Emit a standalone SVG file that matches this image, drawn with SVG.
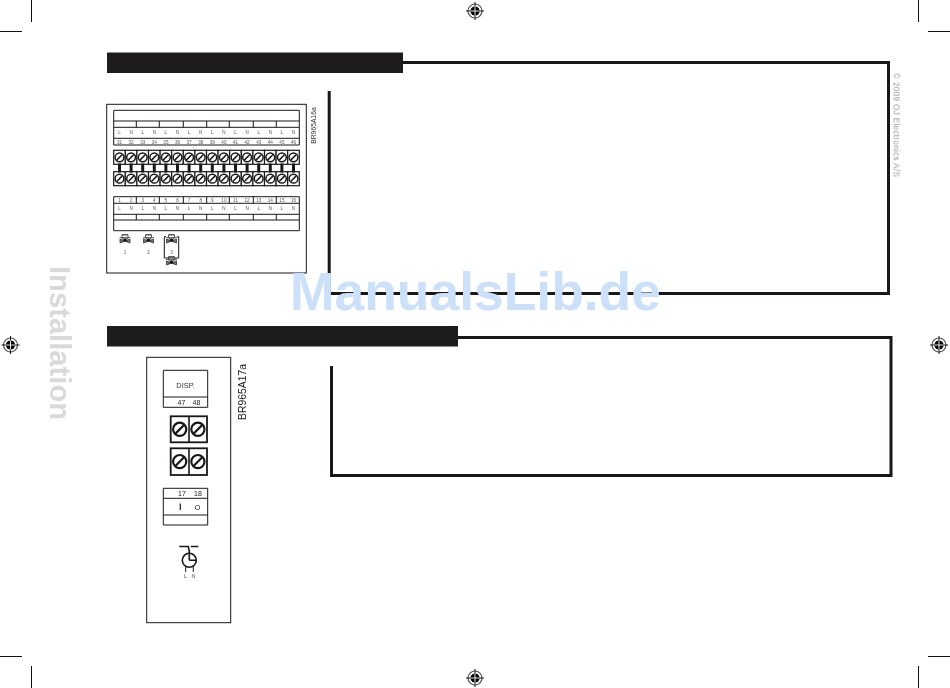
<svg xmlns="http://www.w3.org/2000/svg" width="950" height="688" viewBox="0 0 950 688">
<style>
.ln{fill:none;stroke:#1a1718;stroke-width:1}
.th{fill:none;stroke:#1a1718;stroke-width:3}
.bar{fill:#1f1c1d}
.t{font-family:"Liberation Sans",Arial,sans-serif;fill:#333;text-anchor:middle}
.s{font-size:4.6px;fill:#555}
.m{font-size:7px;fill:#1a1718}
.crop{stroke:#111;stroke-width:1;fill:none}
</style>
<defs>
<g id="reg">
<circle r="7" fill="#fff" stroke="#555" stroke-width="1.2"/>
<circle r="4.6" fill="#000"/>
<path d="M-9 0H9M0-9V9" stroke="#000" stroke-width="0.9" fill="none"/>
<path d="M-4.6 0H4.6M0-4.6V4.6" stroke="#fff" stroke-width="0.9" fill="none"/>
</g>
<g id="term">
<rect x="-5.8" y="-7" width="11.6" height="14" fill="#fff" stroke="#1a1718" stroke-width="1.2"/>
<circle r="4.4" fill="#fff" stroke="#1a1718" stroke-width="1.5"/>
<path d="M-2.8 2.8L2.8-2.8" stroke="#1a1718" stroke-width="1.5"/>
</g>
<g id="bigterm">
<circle r="6.6" fill="#fff" stroke="#1a1718" stroke-width="2.2"/>
<path d="M-4.6 4.6L4.6-4.6" stroke="#1a1718" stroke-width="2.2"/>
</g>
<g id="valve" fill="none" stroke="#333" stroke-width="0.8">
<path d="M-3-1V-4.2H3V-1M-5.5-1.4H5.5M-3-4.2H3"/>
<path d="M-5 0L-5 4L5 0L5 4Z" fill="#777"/>
<path d="M-3-1L3 3M3-1L-3 3" stroke-width="0.9"/>
<circle cx="0" cy="1" r="1.7" fill="#1a1718" stroke="none"/>
</g>
</defs>
<rect width="950" height="688" fill="#fff"/>

<g id="crop-marks">
<path class="crop" d="M31.5 0V22M0 31.5H22M918.5 0V22M928 31.5H950M0 656.5H22M31.5 666V688M928 656.5H950M918.5 666V688"/>
</g>
<g id="registration-marks">
<use href="#reg" x="475" y="11"/>
<use href="#reg" x="10.5" y="345"/>
<use href="#reg" x="939" y="345"/>
<use href="#reg" x="475" y="678"/>
</g>

<g opacity="0.99">
<text id="installation" transform="translate(50,266) rotate(90)" font-family="'Liberation Sans',Arial,sans-serif" font-weight="700" font-size="29.2" fill="#d9d9da">Installation</text>
<text id="copyright" transform="translate(893.5,73) rotate(90)" font-family="'Liberation Sans',Arial,sans-serif" font-size="8.3" fill="#9a9a9a" textLength="104">© 2009 OJ Electronics A/S</text>
</g>

<g id="section-1">
<rect class="bar" x="107" y="52.5" width="296" height="20.5"/>
<path class="th" d="M403 62.5H888.5V293.5H329.2V91"/>
</g>
<g id="section-2">
<rect class="bar" x="107" y="326" width="351" height="20.5"/>
<path class="th" d="M458 337.5H891V475.5H331.5V366"/>
</g>

<g id="panel-1">
<rect class="ln" x="106.7" y="104.3" width="199.6" height="168.7"/>
<path class="ln" d="M113.7 110.3H299.3V127.3H113.7ZM113.7 121H299.3M113.7 138.3H299.3V145H113.7V138.3M113.7 127.3V138.3M299.3 127.3V138.3M136.3 121V127.3M159.3 121V127.3M183.3 121V127.3M206.7 121V127.3M229.3 121V127.3M253.3 121V127.3M276.3 121V127.3"/>
<path class="ln" d="M113.7 196.7H299.3V230.7H113.7ZM113.7 203.3H299.3M113.7 214.3H299.3M113.7 220H299.3M136.3 196.7V203.3M159.3 196.7V203.3M183.3 196.7V203.3M206.7 196.7V203.3M229.3 196.7V203.3M253.3 196.7V203.3M276.3 196.7V203.3M136.3 214.3V220M159.3 214.3V220M183.3 214.3V220M206.7 214.3V220M229.3 214.3V220M253.3 214.3V220M276.3 214.3V220"/>
<g class="t s" opacity="0.99">
<text x="119.5" y="134">L</text><text x="131.1" y="134">N</text><text x="142.7" y="134">L</text><text x="154.3" y="134">N</text><text x="165.9" y="134">L</text><text x="177.5" y="134">N</text><text x="189.1" y="134">L</text><text x="200.7" y="134">N</text><text x="212.3" y="134">L</text><text x="223.9" y="134">N</text><text x="235.5" y="134">L</text><text x="247.1" y="134">N</text><text x="258.7" y="134">L</text><text x="270.3" y="134">N</text><text x="281.9" y="134">L</text><text x="293.5" y="134">N</text>
<text x="119.5" y="143.5">31</text><text x="131.1" y="143.5">32</text><text x="142.7" y="143.5">33</text><text x="154.3" y="143.5">34</text><text x="165.9" y="143.5">35</text><text x="177.5" y="143.5">36</text><text x="189.1" y="143.5">37</text><text x="200.7" y="143.5">38</text><text x="212.3" y="143.5">39</text><text x="223.9" y="143.5">40</text><text x="235.5" y="143.5">41</text><text x="247.1" y="143.5">42</text><text x="258.7" y="143.5">43</text><text x="270.3" y="143.5">44</text><text x="281.9" y="143.5">45</text><text x="293.5" y="143.5">46</text>
<text x="119.5" y="202">1</text><text x="131.1" y="202">2</text><text x="142.7" y="202">3</text><text x="154.3" y="202">4</text><text x="165.9" y="202">5</text><text x="177.5" y="202">6</text><text x="189.1" y="202">7</text><text x="200.7" y="202">8</text><text x="212.3" y="202">9</text><text x="223.9" y="202">10</text><text x="235.5" y="202">11</text><text x="247.1" y="202">12</text><text x="258.7" y="202">13</text><text x="270.3" y="202">14</text><text x="281.9" y="202">15</text><text x="293.5" y="202">16</text>
<text x="119.5" y="210">L</text><text x="131.1" y="210">N</text><text x="142.7" y="210">L</text><text x="154.3" y="210">N</text><text x="165.9" y="210">L</text><text x="177.5" y="210">N</text><text x="189.1" y="210">L</text><text x="200.7" y="210">N</text><text x="212.3" y="210">L</text><text x="223.9" y="210">N</text><text x="235.5" y="210">L</text><text x="247.1" y="210">N</text><text x="258.7" y="210">L</text><text x="270.3" y="210">N</text><text x="281.9" y="210">L</text><text x="293.5" y="210">N</text>
<text x="125" y="254">1</text><text x="148.5" y="254">2</text><text x="171.5" y="254">3</text>
</g>
<g id="terminals-upper">
<use href="#term" x="119.5" y="157.3"/><use href="#term" x="131.1" y="157.3"/><use href="#term" x="142.7" y="157.3"/><use href="#term" x="154.3" y="157.3"/><use href="#term" x="165.9" y="157.3"/><use href="#term" x="177.5" y="157.3"/><use href="#term" x="189.1" y="157.3"/><use href="#term" x="200.7" y="157.3"/><use href="#term" x="212.3" y="157.3"/><use href="#term" x="223.9" y="157.3"/><use href="#term" x="235.5" y="157.3"/><use href="#term" x="247.1" y="157.3"/><use href="#term" x="258.7" y="157.3"/><use href="#term" x="270.3" y="157.3"/><use href="#term" x="281.9" y="157.3"/><use href="#term" x="293.5" y="157.3"/>
</g>
<g id="terminals-lower">
<use href="#term" x="119.5" y="178.7"/><use href="#term" x="131.1" y="178.7"/><use href="#term" x="142.7" y="178.7"/><use href="#term" x="154.3" y="178.7"/><use href="#term" x="165.9" y="178.7"/><use href="#term" x="177.5" y="178.7"/><use href="#term" x="189.1" y="178.7"/><use href="#term" x="200.7" y="178.7"/><use href="#term" x="212.3" y="178.7"/><use href="#term" x="223.9" y="178.7"/><use href="#term" x="235.5" y="178.7"/><use href="#term" x="247.1" y="178.7"/><use href="#term" x="258.7" y="178.7"/><use href="#term" x="270.3" y="178.7"/><use href="#term" x="281.9" y="178.7"/><use href="#term" x="293.5" y="178.7"/>
</g>
<g id="valves">
<use href="#valve" x="125" y="239"/><use href="#valve" x="148.5" y="239"/><use href="#valve" x="171.5" y="239"/>
<path class="ln" d="M166 236.7H164.3V258H178.7V236.7H177"/>
<use href="#valve" x="171.5" y="261"/>
</g>
<g opacity="0.99"><text class="t" transform="translate(315.5,125.5) rotate(-90)" style="font-size:6.8px;fill:#333">BR965A16a</text></g>
</g>

<g id="connectors">
<path stroke="#1a1718" stroke-width="3" fill="none" d="M119.5 163.5V172.5M131.1 163.5V172.5M142.7 163.5V172.5M154.3 163.5V172.5M165.9 163.5V172.5M177.5 163.5V172.5M189.1 163.5V172.5M200.7 163.5V172.5M212.3 163.5V172.5M223.9 163.5V172.5M235.5 163.5V172.5M247.1 163.5V172.5M258.7 163.5V172.5M270.3 163.5V172.5M281.9 163.5V172.5M293.5 163.5V172.5"/>
</g>

<g id="panel-2">
<rect class="ln" x="146.7" y="357.3" width="84" height="265.4"/>
<path class="ln" d="M163.3 370.3H207.7V407.3H163.3ZM163.3 397H207.7"/>
<g opacity="0.99">
<text class="t" x="185.5" y="388" style="font-size:7.4px">DISP.</text>
<text class="t m" x="181.5" y="405">47</text><text class="t m" x="196.5" y="405">48</text>
<text class="t m" x="182" y="496">17</text><text class="t m" x="198" y="496">18</text>
<text class="t m" x="197.5" y="509.5">O</text>
<text class="t s" x="185.5" y="578" style="font-size:5.5px">L</text><text class="t s" x="193.5" y="578" style="font-size:5.5px">N</text>
<text class="t" transform="translate(245.5,392) rotate(-90)" style="font-size:10.4px;fill:#1a1718">BR965A17a</text>
</g>
<g id="screw-block-1">
<rect x="170.7" y="416.3" width="36.3" height="26" fill="#fff" stroke="#1a1718" stroke-width="1.8"/>
<path d="M189 416.3V442.3" stroke="#1a1718" stroke-width="1.6"/>
<use href="#bigterm" x="179.7" y="429.3"/><use href="#bigterm" x="197.9" y="429.3"/>
</g>
<g id="screw-block-2">
<rect x="170.7" y="448.3" width="36.3" height="26.7" fill="#fff" stroke="#1a1718" stroke-width="1.8"/>
<path d="M189 448.3V475" stroke="#1a1718" stroke-width="1.6"/>
<use href="#bigterm" x="179.7" y="461.6"/><use href="#bigterm" x="197.9" y="461.6"/>
</g>
<path class="ln" d="M163.3 488.3H207.7V525H163.3ZM163.3 498.3H207.7M163.3 515H207.7"/>
<path stroke="#1a1718" stroke-width="1.2" d="M180.3 503.5V510"/>
<g id="clock" fill="none" stroke="#1a1718">
<circle cx="189.3" cy="560.3" r="7" stroke-width="1.6"/>
<path stroke-width="1.6" d="M189.3 560.3V551M189.3 560.3H196M179.3 546.5H188.3L189.5 552M190.8 546.5H198.3"/>
<path stroke-width="1" d="M185.7 566V572M193.3 566V572"/>
</g>
</g>

<text id="watermark" x="475.5" y="310" text-anchor="middle" font-family="'Liberation Sans',Arial,sans-serif" font-weight="700" font-size="53.4" fill="#cce0fa">ManualsLib.de</text>
</svg>
